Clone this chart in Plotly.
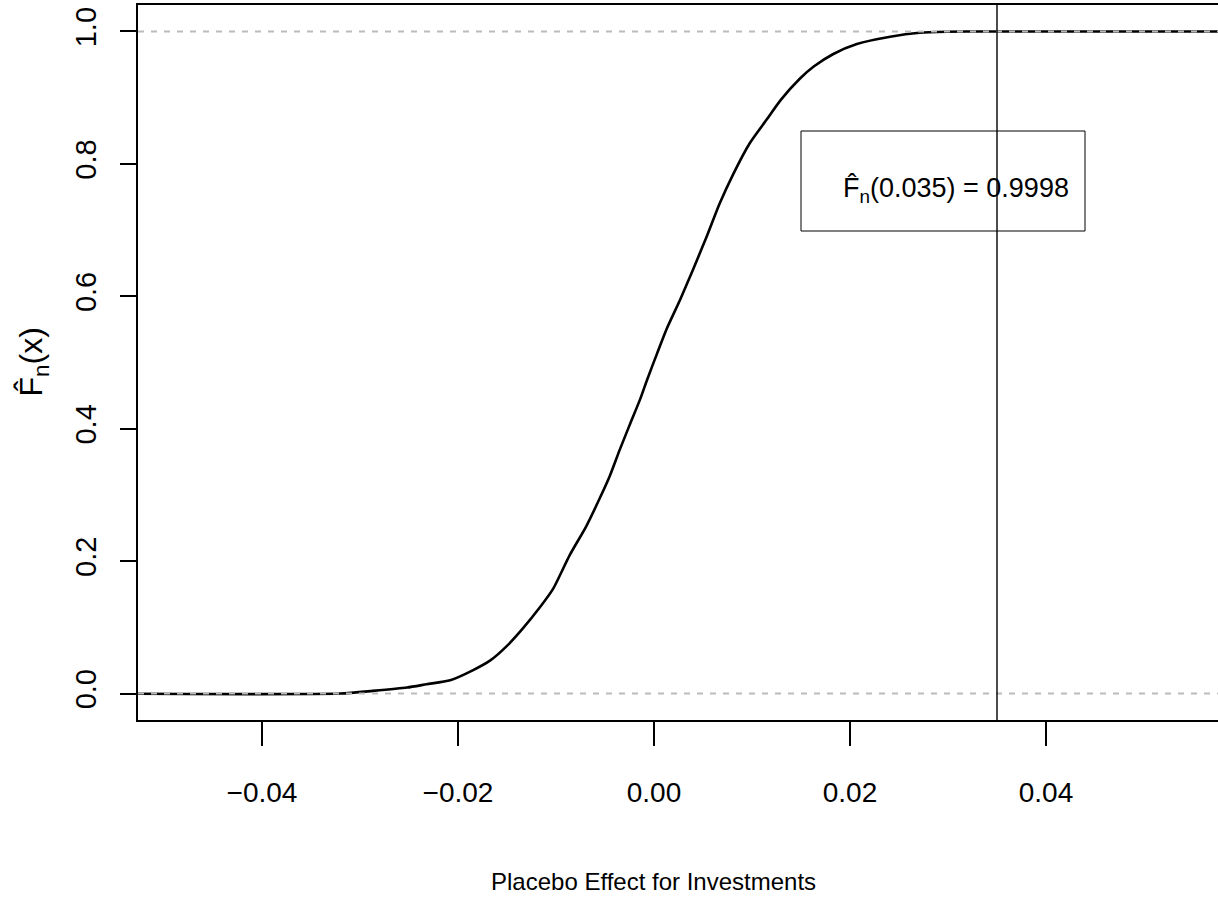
import plotly.graph_objects as go

# ---- data ----
ecdf_x = [-0.0600, -0.0320, -0.0287, -0.0252, -0.0232, -0.0208, -0.0185, -0.0167, -0.0150, -0.0134,
          -0.0116, -0.0103, -0.0086, -0.0069, -0.0055, -0.0045, -0.0035, -0.0025, -0.0014, -0.0007,
          0.0003, 0.0013, 0.0027, 0.0040, 0.0054, 0.0067, 0.0081, 0.0098, 0.0115, 0.0129,
          0.0149, 0.0163, 0.0183, 0.0207, 0.0241, 0.0271, 0.0299, 0.0333, 0.0700]
ecdf_y = [0.000, 0.000, 0.004, 0.009, 0.014, 0.020, 0.035, 0.050, 0.072, 0.098,
          0.131, 0.158, 0.209, 0.253, 0.296, 0.329, 0.368, 0.405, 0.445, 0.474,
          0.513, 0.551, 0.596, 0.641, 0.691, 0.740, 0.785, 0.832, 0.867, 0.896,
          0.929, 0.947, 0.966, 0.981, 0.992, 0.998, 0.9995, 1.000, 1.000]

x_ticks = [-0.04, -0.02, 0.00, 0.02, 0.04]
x_tick_labels = ["\u22120.04", "\u22120.02", "0.00", "0.02", "0.04"]
y_ticks = [0.0, 0.2, 0.4, 0.6, 0.8, 1.0]
y_tick_labels = ["0.0", "0.2", "0.4", "0.6", "0.8", "1.0"]
ref_levels = [0.0, 1.0]
query_x = 0.035
query_value = 0.9998
x_range = [-0.05265, 0.05755]
y_range = [-0.04, 1.04]
x_title = "Placebo Effect for Investments"
y_title = "F\u0302<sub>n</sub>(x)"
legend_text = "F\u0302<sub>n</sub>(%.3f) = %.4f" % (query_x, query_value)

SANS = "Liberation Sans, Arial, Helvetica, sans-serif"

fig = go.Figure()
fig.add_trace(go.Scatter(x=ecdf_x, y=ecdf_y, mode="lines", line_shape="spline",
                         line=dict(color="black", width=2.6, smoothing=0.6), hoverinfo="skip",
                         showlegend=False))

shapes = []
for lv in ref_levels:
    shapes.append(dict(type="line", xref="paper", yref="y", x0=0, x1=1, y0=lv, y1=lv,
                       line=dict(color="#BBBBBB", width=2, dash="6px,7px"), layer="above"))
shapes.append(dict(type="line", xref="x", yref="paper", x0=query_x, x1=query_x, y0=0, y1=1,
                   line=dict(color="black", width=1.4), layer="above"))
# legend box
shapes.append(dict(type="rect", xref="paper", yref="paper",
                   x0=(801 - 138) / 1080, x1=(1085 - 138) / 1080,
                   y0=(720 - 231) / 715, y1=(720 - 131) / 715,
                   line=dict(color="black", width=1), fillcolor="rgba(0,0,0,0)", layer="above"))

annotations = [
    dict(text=x_title, xref="x", yref="paper", x=0.0, y=(720 - 881) / 715,
         xanchor="center", yanchor="middle", showarrow=False,
         font=dict(family=SANS, size=24, color="black")),
    dict(text=y_title, xref="paper", yref="paper", x=(33 - 138) / 1080, y=0.5,
         xanchor="center", yanchor="middle", showarrow=False, textangle=-90,
         font=dict(family=SANS, size=32, color="black")),
    dict(text=legend_text, xref="paper", yref="paper", x=(1071 - 138) / 1080,
         y=(720 - 190) / 715, xanchor="right", yanchor="middle", showarrow=False,
         font=dict(family=SANS, size=27, color="black")),
]

fig.update_layout(
    width=1218, height=898,
    margin=dict(l=138, r=0, t=5, b=178, pad=0),
    paper_bgcolor="white", plot_bgcolor="white",
    shapes=shapes, annotations=annotations,
    hovermode=False, showlegend=False,
)
fig.update_xaxes(range=x_range, tickmode="array", tickvals=x_ticks, ticktext=x_tick_labels,
                 showgrid=False, zeroline=False, showline=True, linecolor="black", linewidth=2,
                 mirror=True, ticks="outside", ticklen=24, tickwidth=1.5, tickcolor="black",
                 ticklabelstandoff=22,
                 tickfont=dict(family=SANS, size=28, color="black"))
fig.update_yaxes(range=y_range, tickmode="array", tickvals=y_ticks, ticktext=y_tick_labels,
                 showgrid=False, zeroline=False, showline=True, linecolor="black", linewidth=2,
                 mirror=False, ticks="outside", ticklen=16, tickwidth=1.5, tickcolor="black",
                 tickangle=-90, ticklabelstandoff=12,
                 tickfont=dict(family=SANS, size=29, color="black"))

fig.write_html("out.html", config={"displayModeBar": False},
               post_script="document.body.style.margin='0';document.body.style.padding='0';")
